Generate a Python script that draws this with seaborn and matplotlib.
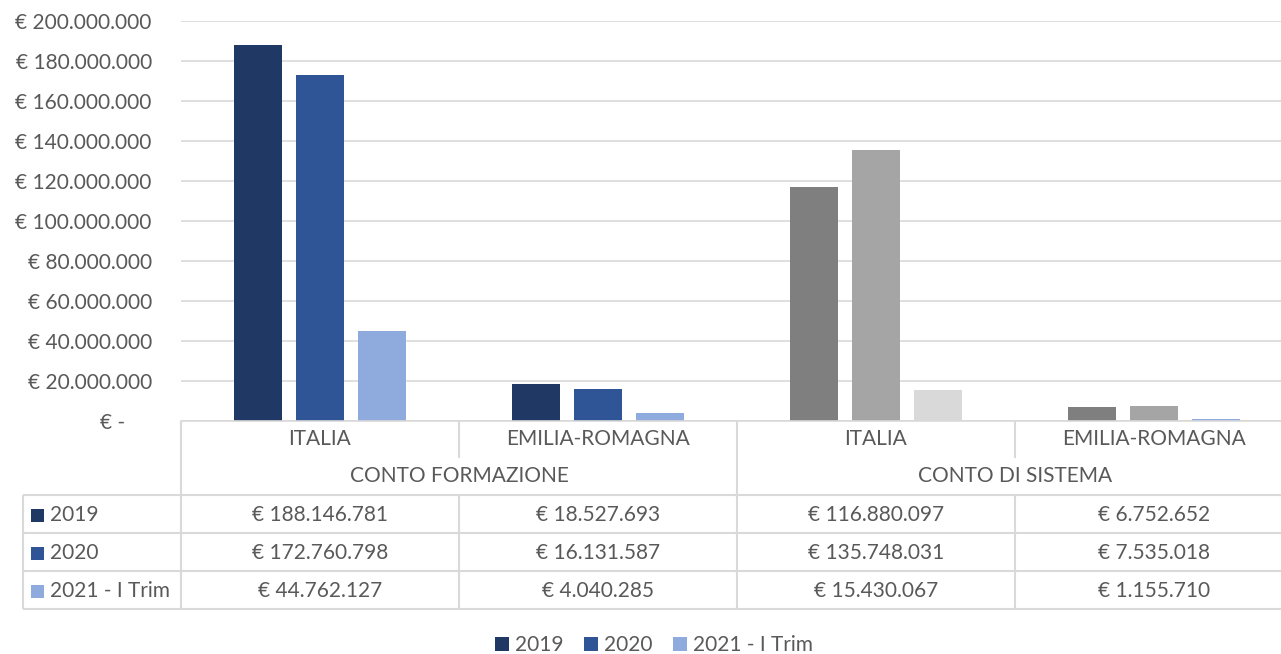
import matplotlib
matplotlib.use("Agg")
import matplotlib.pyplot as plt
import matplotlib.ticker as mticker
from matplotlib.patches import Patch, Rectangle
import seaborn as sns
import pandas as pd

# ---------------- data ----------------
regions = ["ITALIA", "EMILIA-ROMAGNA", "ITALIA", "EMILIA-ROMAGNA"]
groups = ["CONTO FORMAZIONE", "CONTO DI SISTEMA"]
years = ["2019", "2020", "2021 - I Trim"]
v2019 = [188146781, 18527693, 116880097, 6752652]
v2020 = [172760798, 16131587, 135748031, 7535018]
v2021 = [44762127, 4040285, 15430067, 1155710]
yticks = [0, 20000000, 40000000, 60000000, 80000000, 100000000,
          120000000, 140000000, 160000000, 180000000, 200000000]

blues = ["#203864", "#2F5597", "#8FAADC"]
grays = ["#7F7F7F", "#A5A5A5", "#D9D9D9"]
# colour scheme per column (per year) as in the reference
col_colors = [blues, blues, grays, ["#7F7F7F", "#A5A5A5", "#8FAADC"]]

TXT = "#595959"
GRID = "#D9D9D9"
FS = 15

sns.set_theme(style="white")
plt.rcParams["font.family"] = ["Lato", "DejaVu Sans"]
plt.rcParams["font.size"] = FS

keys = [f"{i}|{r}" for i, r in enumerate(regions)]
rows = []
for yr, vals in zip(years, [v2019, v2020, v2021]):
    for k, v in zip(keys, vals):
        rows.append({"col": k, "year": yr, "value": v})
df = pd.DataFrame(rows)

W, H = 1281, 654
fig = plt.figure(figsize=(W / 100, H / 100), dpi=100)

x0, colw = 181, 278
ytop, ybase = 21, 421
ax = fig.add_axes([x0 / W, (H - ybase) / H, (4 * colw) / W, (ybase - ytop) / H])

sns.barplot(data=df, x="col", y="value", hue="year", order=keys, hue_order=years,
            palette=blues, width=0.67, gap=0.22, ax=ax, legend=False,
            saturation=1, linewidth=0, errorbar=None)

for hi, cont in enumerate(ax.containers):
    for ci, bar in enumerate(cont):
        bar.set_facecolor(col_colors[ci][hi])
        bar.set_edgecolor("none")

ax.set_xlim(-0.5, 3.5)
ax.set_ylim(0, 200000000)
ax.set_yticks(yticks)


def eur(v, pos=None):
    if v == 0:
        return "€ -     "
    return "€ " + f"{int(round(v)):,}".replace(",", ".")


ax.yaxis.set_major_formatter(mticker.FuncFormatter(eur))
ax.tick_params(axis="y", length=0, pad=21, labelsize=FS, labelcolor=TXT)
ax.tick_params(axis="x", length=0, labelbottom=False)
ax.set_xlabel("")
ax.set_ylabel("")
ax.yaxis.grid(True, color=GRID, linewidth=1.2)
ax.set_axisbelow(True)
for s in ["top", "right", "left"]:
    ax.spines[s].set_visible(False)
ax.spines["bottom"].set_color(GRID)
ax.spines["bottom"].set_linewidth(1.2)

# ---------------- data table ----------------
tb = fig.add_axes([0, 0, 1, 1], zorder=-1)
tb.set_xlim(0, W)
tb.set_ylim(H, 0)
tb.axis("off")

lw = 1.5
xl = 23
cols_x = [x0 + i * colw for i in range(5)]
y_lab, y_grp = 439, 476
hl = [495, 533, 571, 609]


def line(xa, xb, ya, yb):
    tb.plot([xa, xb], [ya, yb], color=GRID, lw=lw, solid_capstyle="butt")


for y in hl:
    line(xl, W + 20, y, y)
line(xl, xl, hl[0], hl[-1])
line(cols_x[0], cols_x[0], ybase, hl[-1])
line(cols_x[2], cols_x[2], ybase, hl[-1])
for cx in (cols_x[1], cols_x[3]):
    line(cx, cx, ybase, 458)
    line(cx, cx, hl[0], hl[-1])

for i, r in enumerate(regions):
    tb.text((cols_x[i] + cols_x[i + 1]) / 2, y_lab, r, ha="center", va="center",
            color=TXT, fontsize=FS)
for g, grp in enumerate(groups):
    tb.text(cols_x[2 * g + 1], y_grp, grp, ha="center", va="center",
            color=TXT, fontsize=FS)

for ri, (yr, vals) in enumerate(zip(years, [v2019, v2020, v2021])):
    yc = (hl[ri] + hl[ri + 1]) / 2 + 1
    tb.add_patch(Rectangle((31, yc - 6.5), 13, 13, facecolor=blues[ri], edgecolor="none"))
    tb.text(50, yc, yr, ha="left", va="center", color=TXT, fontsize=FS)
    for ci, v in enumerate(vals):
        tb.text((cols_x[ci] + cols_x[ci + 1]) / 2, yc, eur(v), ha="center",
                va="center", color=TXT, fontsize=FS)

# ---------------- legend ----------------
handles = [Patch(facecolor=c, edgecolor="none", label=y) for c, y in zip(blues, years)]
fig.legend(handles=handles, loc="center", bbox_to_anchor=(654 / W, 1 - 645 / H),
           ncol=3, frameon=False, fontsize=FS, labelcolor=TXT,
           handlelength=0.65, handleheight=0.65, handletextpad=0.3, columnspacing=1.0)

fig.savefig("out.png", dpi=100)
